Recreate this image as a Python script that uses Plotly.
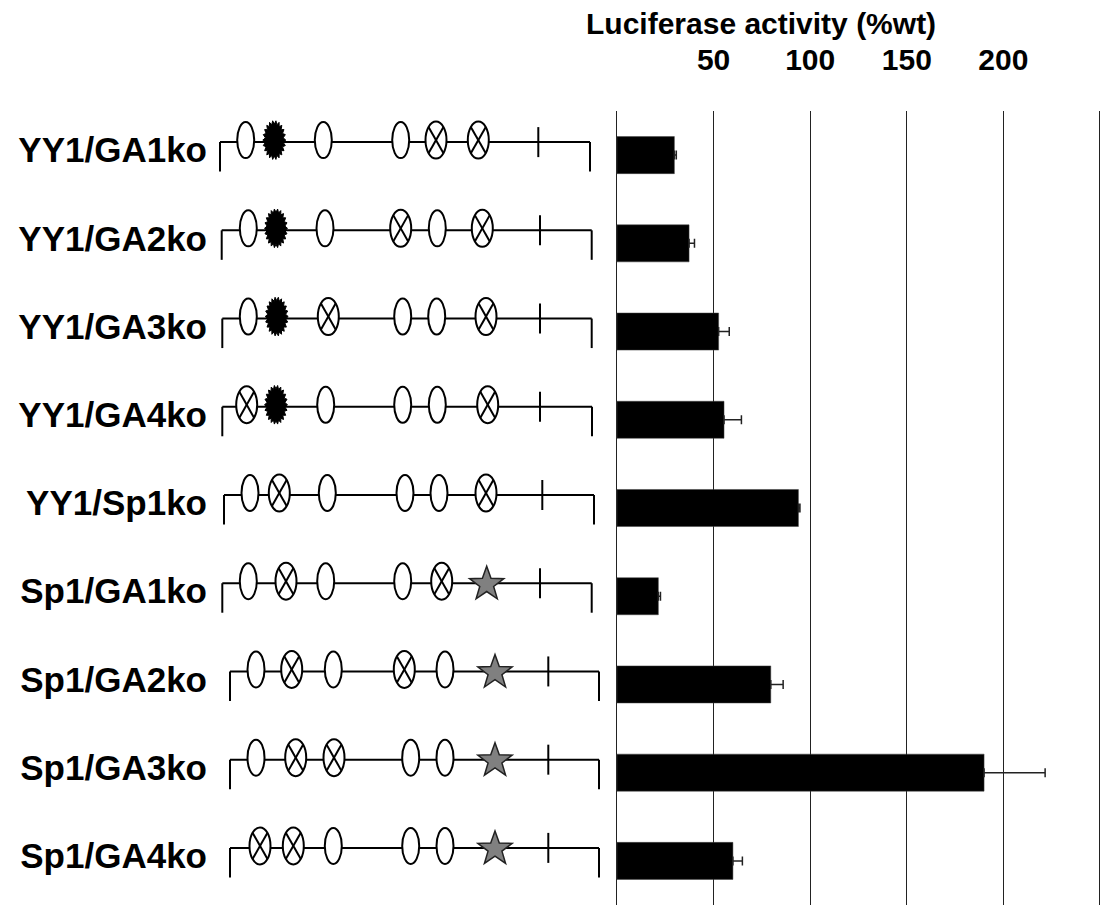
import numpy as np
import plotly.graph_objects as go

# ---------------- data ----------------
constructs = ["YY1/GA1ko", "YY1/GA2ko", "YY1/GA3ko", "YY1/GA4ko", "YY1/Sp1ko",
              "Sp1/GA1ko", "Sp1/GA2ko", "Sp1/GA3ko", "Sp1/GA4ko"]
activity = [29.7, 37.3, 52.6, 55.4, 93.9, 21.4, 79.6, 190.0, 60.0]
activity_err = [1.0, 2.8, 5.5, 9.0, 0.8, 1.1, 6.4, 31.6, 4.9]

axis_ticks = [0, 50, 100, 150, 200, 250]
axis_ticktext = ["", "50", "100", "150", "200", ""]

# promoter schematic: E = intact site, X = knocked-out site, S = YY1 site, T = Sp1 star
promoter_start = [0, 1.7, 2.3, 2.3, 4, 2.3, 10, 10, 10]
promoter_end = [370, 371.7, 371.7, 372, 374, 371.7, 379, 379, 379]
promoter_mark = [318.3, 320, 320, 320, 322.3, 320, 328.3, 328.3, 328.3]
site_pos = [
    [25.7, 54.3, 103.3, 180.7, 216.0, 258.3],
    [28.3, 56.0, 105.0, 180.7, 217.3, 262.3],
    [28.3, 56.7, 108.3, 182.7, 216.7, 266.0],
    [26.7, 56.0, 105.7, 182.7, 217.3, 267.7],
    [30.0, 59.3, 107.3, 185.0, 219.0, 266.0],
    [28.3, 66.0, 105.7, 182.7, 221.7, 266.7],
    [36.0, 71.7, 113.3, 184.3, 225.0, 275.0],
    [36.0, 75.7, 114.0, 190.7, 225.0, 275.0],
    [40.0, 73.3, 113.3, 190.7, 225.0, 275.0],
]
site_type = [
    ["E", "S", "E", "E", "X", "X"],
    ["E", "S", "E", "X", "E", "X"],
    ["E", "S", "X", "E", "E", "X"],
    ["X", "S", "E", "E", "E", "X"],
    ["E", "X", "E", "E", "E", "X"],
    ["E", "X", "E", "E", "X", "T"],
    ["E", "X", "E", "X", "E", "T"],
    ["E", "X", "X", "E", "E", "T"],
    ["X", "X", "E", "E", "E", "T"],
]

# ---------------- layout geometry ----------------
W, H = 1102, 909
PLOT_TOP, PLOT_BOT = 111, 905
BAR_X0, BAR_X1 = 617, 1100          # pixel positions of 0 and 250
X_LO, X_HI = -1.0, 251.0            # slightly padded range so edge gridlines show
PX_PER_UNIT = (BAR_X1 - BAR_X0) / 250.0
DIA_X0, DIA_X1 = 212, 610
ORIGIN = 220
n = len(constructs)
CAT_PX = (PLOT_BOT - PLOT_TOP) / n     # pixels per category
YPX = 1.0 / CAT_PX                      # category units per pixel

ydom = [1 - PLOT_BOT / H, 1 - PLOT_TOP / H]
xdom = [(BAR_X0 + X_LO * PX_PER_UNIT) / W, (BAR_X0 + X_HI * PX_PER_UNIT) / W]
ys = list(range(n))

fig = go.Figure()
fig.add_trace(go.Bar(
    x=activity, y=ys, orientation="h", width=0.42,
    marker=dict(color="black", line=dict(color="#444", width=0.5)),
    error_x=dict(type="data", array=activity_err, arrayminus=[0] * n, symmetric=False,
                 color="#222", thickness=1.5, width=4.5),
    xaxis="x", yaxis="y", showlegend=False, hoverinfo="skip"))

# invisible trace to anchor diagram axes
fig.add_trace(go.Scatter(x=[0], y=[0], mode="markers", marker=dict(opacity=0),
                         xaxis="x2", yaxis="y2", showlegend=False, hoverinfo="skip"))

shapes = []
LW = 2
BASE_DY = -13 * YPX     # schematic line sits slightly above bar centre


def line(x0, y0, x1, y1, layer="above"):
    shapes.append(dict(type="line", xref="x2", yref="y2", x0=x0, y0=y0, x1=x1, y1=y1,
                       line=dict(color="black", width=LW), layer=layer))


def ellipse(cx, cy, w, h, fill="white"):
    shapes.append(dict(type="circle", xref="x2", yref="y2",
                       x0=cx - w / 2, x1=cx + w / 2,
                       y0=cy - h / 2 * YPX, y1=cy + h / 2 * YPX,
                       line=dict(color="black", width=LW), fillcolor=fill, layer="above"))


def path(points, fill, lcolor, lw):
    d = "M " + " L ".join(f"{px:.3f},{py:.4f}" for px, py in points) + " Z"
    shapes.append(dict(type="path", xref="x2", yref="y2", path=d,
                       fillcolor=fill, line=dict(color=lcolor, width=lw), layer="above"))


for i in range(n):
    yb = i + BASE_DY
    s, e, m = promoter_start[i], promoter_end[i], promoter_mark[i]
    line(s, yb, e, yb)
    line(s, yb, s, yb + 29.5 * YPX)
    line(e, yb, e, yb + 29.5 * YPX)
    line(m, yb - 15 * YPX, m, yb + 15 * YPX)
    for px, t in zip(site_pos[i], site_type[i]):
        cy = yb - 2 * YPX
        if t == "E":
            ellipse(px, cy, 17, 36)
        elif t == "X":
            ellipse(px, cy, 21, 37)
            a, b = 10.5 * 0.70, 18.5 * 0.70
            line(px - a, cy - b * YPX, px + a, cy + b * YPX)
            line(px + a, cy - b * YPX, px - a, cy + b * YPX)
        elif t == "S":
            k = 22
            pts = []
            for j in range(2 * k):
                ang = np.pi * j / k
                rx, ry = (11.5, 19.5) if j % 2 == 0 else (9.0, 16.0)
                pts.append((px + rx * np.cos(ang), cy + ry * np.sin(ang) * YPX))
            path(pts, "black", "black", 1)
        elif t == "T":
            R, r = 18.0, 7.3
            pts = []
            for j in range(10):
                ang = -np.pi / 2 + np.pi * j / 5
                rr = R if j % 2 == 0 else r
                pts.append((px + rr * np.cos(ang), yb + 1 * YPX + rr * np.sin(ang) * YPX))
            path(pts, "#808080", "#222", 1.5)

label_font = dict(family="Liberation Sans, Arial, sans-serif", size=35, color="black", weight="bold")
num_font = dict(family="Liberation Sans, Arial, sans-serif", size=30, color="black", weight="bold")

fig.update_layout(
    width=W, height=H, autosize=False,
    margin=dict(l=0, r=0, t=0, b=0, pad=0),
    paper_bgcolor="white", plot_bgcolor="white",
    bargap=0.5,
    shapes=shapes,
    xaxis=dict(domain=xdom, range=[X_LO, X_HI], side="top", anchor="y",
               tickvals=axis_ticks, ticktext=axis_ticktext, ticks="",
               showgrid=True, gridcolor="#222", gridwidth=1, zeroline=False, showline=False,
               tickfont=num_font, ticklabelstandoff=34),
    yaxis=dict(domain=ydom, range=[n - 0.5, -0.5], anchor="x", showticklabels=False,
               showgrid=False, zeroline=False, showline=False, ticks=""),
    xaxis2=dict(domain=[DIA_X0 / W, DIA_X1 / W], range=[DIA_X0 - ORIGIN, DIA_X1 - ORIGIN],
                anchor="y2", visible=False),
    yaxis2=dict(domain=ydom, range=[n - 0.5, -0.5], anchor="x2",
                tickvals=[i - 5 * YPX for i in ys], ticktext=constructs,
                ticks="", showgrid=False, zeroline=False, showline=False,
                tickfont=label_font, ticklabelstandoff=4),
    annotations=[dict(text="Luciferase activity (%wt)", xref="paper", yref="paper",
                      x=761 / W, y=1 - 24 / H, xanchor="center", yanchor="middle",
                      showarrow=False, font=num_font)],
)

fig.write_html("out.html", config={"displayModeBar": False},
               post_script="document.body.style.margin='0';")
